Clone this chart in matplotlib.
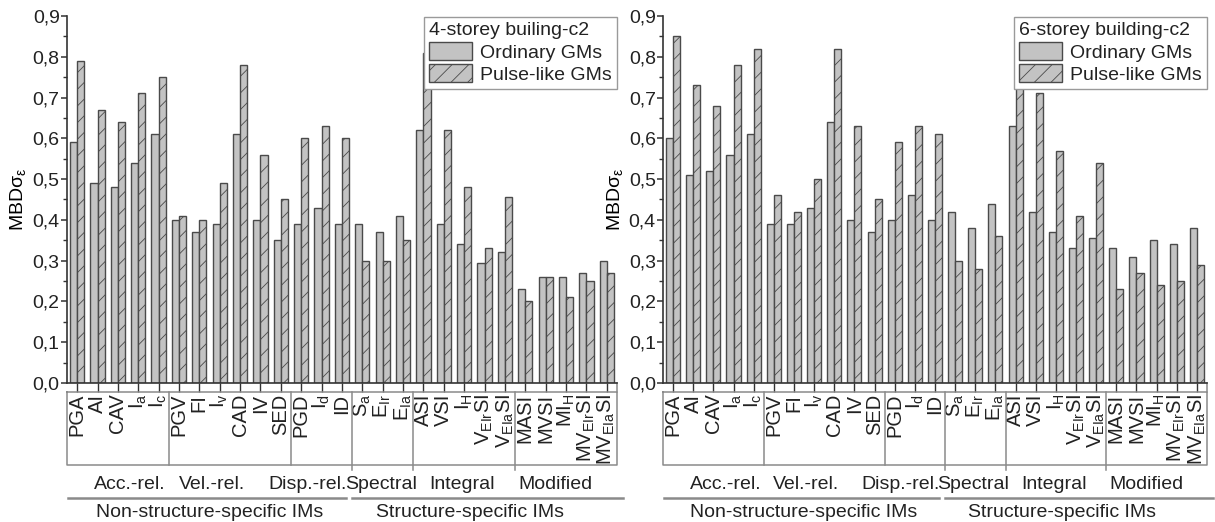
import numpy as np
import matplotlib.pyplot as plt
from matplotlib.ticker import MultipleLocator, FuncFormatter

plt.rcParams['font.family'] = ['Liberation Sans', 'DejaVu Sans']
plt.rcParams['mathtext.default'] = 'regular'
plt.rcParams['hatch.linewidth'] = 0.6
plt.rcParams['text.color'] = '#222222'

# intensity measures on the x axis
ims = ['PGA', 'AI', 'CAV', 'I$_a$', 'I$_c$',
       'PGV', 'FI', 'I$_v$', 'CAD', 'IV', 'SED',
       'PGD', 'I$_d$', 'ID',
       'S$_a$', 'E$_{Ir}$', 'E$_{Ia}$',
       'ASI', 'VSI', 'I$_H$', 'V$_{EIr}$SI', 'V$_{EIa}$SI',
       'MASI', 'MVSI', 'MI$_H$', 'MV$_{EIr}$SI', 'MV$_{EIa}$SI']

groups = ['Acc.-rel.', 'Vel.-rel.', 'Disp.-rel.', 'Spectral', 'Integral', 'Modified']
group_sizes = [5, 6, 3, 3, 5, 5]
families = ['Non-structure-specific IMs', 'Structure-specific IMs']

# MBD of sigma_eps, 4-storey building
ord_4 = [0.59, 0.49, 0.48, 0.54, 0.61,
         0.40, 0.37, 0.39, 0.61, 0.40, 0.35,
         0.39, 0.43, 0.39,
         0.39, 0.37, 0.41,
         0.62, 0.39, 0.34, 0.295, 0.32,
         0.23, 0.26, 0.26, 0.27, 0.30]
pulse_4 = [0.79, 0.67, 0.64, 0.71, 0.75,
           0.41, 0.40, 0.49, 0.78, 0.56, 0.45,
           0.60, 0.63, 0.60,
           0.30, 0.30, 0.35,
           0.81, 0.62, 0.48, 0.33, 0.455,
           0.20, 0.26, 0.21, 0.25, 0.27]

# 6-storey building
ord_6 = [0.60, 0.51, 0.52, 0.56, 0.61,
         0.39, 0.39, 0.43, 0.64, 0.40, 0.37,
         0.40, 0.46, 0.40,
         0.42, 0.38, 0.44,
         0.63, 0.42, 0.37, 0.33, 0.355,
         0.33, 0.31, 0.35, 0.34, 0.38]
pulse_6 = [0.85, 0.73, 0.68, 0.78, 0.82,
           0.46, 0.42, 0.50, 0.82, 0.63, 0.45,
           0.59, 0.63, 0.61,
           0.30, 0.28, 0.36,
           0.87, 0.71, 0.57, 0.41, 0.54,
           0.23, 0.27, 0.24, 0.25, 0.29]

FILL = '#c3c3c3'
EDGE = '#4a4a4a'
LINE = '#8a8a8a'


def panel(ax, ordinary, pulse, title):
    n = len(ims)
    x = np.arange(n)
    w = 0.35
    ax.bar(x - w / 2, ordinary, w, color=FILL, edgecolor=EDGE, linewidth=1.0,
           label='Ordinary GMs', zorder=2)
    ax.bar(x + w / 2, pulse, w, color=FILL, edgecolor=EDGE, linewidth=1.0,
           hatch='//', label='Pulse-like GMs', zorder=2)

    ax.set_xlim(-0.5, n - 0.5)
    ax.set_ylim(0, 0.9)
    ax.yaxis.set_major_locator(MultipleLocator(0.1))
    ax.yaxis.set_minor_locator(MultipleLocator(0.05))
    ax.yaxis.set_major_formatter(FuncFormatter(lambda v, p: f'{v:.1f}'.replace('.', ',')))
    ax.tick_params(axis='y', which='major', length=4.2, width=1.1, pad=1,
                   labelsize=14, colors='#333333', labelcolor='#222222')
    ax.tick_params(axis='y', which='minor', length=2.6, width=1.0, colors='#333333')

    ax.set_xticks(x)
    ax.set_xticklabels(ims, rotation=90, fontsize=14.5)
    ax.tick_params(axis='x', length=6.2, width=1.0, pad=1.5, colors='#333333',
                   labelcolor='#222222')

    for s in ['top', 'right']:
        ax.spines[s].set_visible(False)
    for s in ['left', 'bottom']:
        ax.spines[s].set_color('#333333')
        ax.spines[s].set_linewidth(1.2)

    ax.set_ylabel('MBDσ$_\\varepsilon$', fontsize=14, labelpad=3)

    # box holding the IM names, split by IM type
    tr = ax.get_xaxis_transform()
    lo, hi = -0.5, n - 0.5
    top, bot = -0.025, -0.223
    kw = dict(color=LINE, lw=1.1, transform=tr, clip_on=False)
    ax.plot([lo, hi, hi, lo, lo], [top, top, bot, bot, top], **kw)
    ax.plot([hi, hi], [0, top], **kw)
    edges = np.cumsum(group_sizes)[:-1] - 0.5
    for k, e in enumerate(edges):
        ax.plot([e, e], [top, bot - (0.014 if k >= 2 else 0)], **kw)

    for name, xc in zip(groups, [2.6, 6.6, 11.3, 14.9, 18.9, 23.5]):
        ax.text(xc, -0.276, name, transform=tr, ha='center', va='center', fontsize=14)

    ax.plot([-0.45, 13.2], [-0.314, -0.314], color=LINE, lw=1.8, transform=tr, clip_on=False)
    ax.plot([13.5, 26.8], [-0.314, -0.314], color=LINE, lw=1.8, transform=tr, clip_on=False)
    for name, xc in zip(families, [6.5, 19.3]):
        ax.text(xc, -0.353, name, transform=tr, ha='center', va='center', fontsize=14)

    leg = ax.legend(title=title, loc='upper right', bbox_to_anchor=(1.0, 0.996),
                    fontsize=14, title_fontsize=14, alignment='left',
                    fancybox=False, framealpha=1, edgecolor='#9a9a9a',
                    handlelength=2.2, handleheight=1.0, handletextpad=0.45,
                    labelspacing=0.15, borderpad=0.25, borderaxespad=0)
    leg.get_frame().set_linewidth(1.0)
    leg.set_zorder(5)


fig = plt.figure(figsize=(12.15, 5.22), dpi=100)
ax1 = fig.add_axes([0.0551, 0.2663, 0.4527, 0.7031])
ax2 = fig.add_axes([0.5457, 0.2663, 0.4477, 0.7031])

panel(ax1, ord_4, pulse_4, '4-storey builing-c2')
panel(ax2, ord_6, pulse_6, '6-storey building-c2')

fig.savefig('out.png', dpi=100)
